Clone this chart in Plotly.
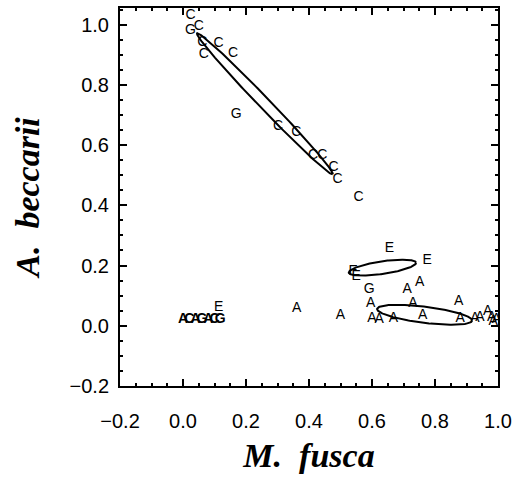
import numpy as np
import plotly.graph_objects as go

# ---- data ----
c_x = [0.024, 0.050, 0.061, 0.066, 0.113, 0.159, 0.302, 0.360, 0.413, 0.442, 0.478, 0.491, 0.557]
c_y = [1.030, 0.993, 0.940, 0.900, 0.938, 0.905, 0.660, 0.641, 0.564, 0.564, 0.525, 0.487, 0.426]

g_x = [0.024, 0.169, 0.591]
g_y = [0.979, 0.701, 0.120]

e_x = [0.655, 0.775, 0.540, 0.550, 0.113]
e_y = [0.255, 0.217, 0.180, 0.165, 0.061]

a_x = [0.361, 0.500, 0.596, 0.600, 0.623, 0.668, 0.712, 0.751, 0.730, 0.761,
       0.875, 0.880, 0.927, 0.943, 0.967, 0.980, 0.985, 0.995]
a_y = [0.058, 0.035, 0.073, 0.024, 0.020, 0.024, 0.120, 0.145, 0.073, 0.035,
       0.079, 0.024, 0.024, 0.027, 0.046, 0.027, 0.013, 0.020]

# dense cluster near the origin
k_x = [0.000, 0.020, 0.040, 0.060, 0.080, 0.100, 0.118]
k_y = [0.020, 0.020, 0.020, 0.020, 0.020, 0.020, 0.020]
k_t = ["A", "C", "A", "G", "A", "C", "G"]

# ellipses: centre x, centre y, semi-major, semi-minor, angle (deg)
ell_cx = [0.260, 0.633, 0.767]
ell_cy = [0.737, 0.193, 0.0365]
ell_a = [0.318, 0.108, 0.152]
ell_b = [0.018, 0.021, 0.027]
ell_ang = [-47.4, 8.8, -7.4]

x_ticks = [-0.2, 0.0, 0.2, 0.4, 0.6, 0.8, 1.0]
y_ticks = [-0.2, 0.0, 0.2, 0.4, 0.6, 0.8, 1.0]

fig = go.Figure()

letter_font = dict(family="Liberation Sans", size=14, color="black")

for xs, ys, lab in [(c_x, c_y, "C"), (g_x, g_y, "G"), (e_x, e_y, "E"), (a_x, a_y, "A")]:
    fig.add_trace(go.Scatter(x=xs, y=ys, mode="text", text=[lab] * len(xs),
                             textfont=letter_font, textposition="middle center",
                             showlegend=False, hoverinfo="skip"))

fig.add_trace(go.Scatter(x=k_x, y=k_y, mode="text", text=["<b>%s</b>" % t for t in k_t],
                         textfont=dict(family="Liberation Sans", size=14, color="black"),
                         textposition="middle center", showlegend=False, hoverinfo="skip"))

t = np.linspace(0, 2 * np.pi, 200)
for cx, cy, a, b, ang in zip(ell_cx, ell_cy, ell_a, ell_b, ell_ang):
    th = np.deg2rad(ang)
    ex = cx + a * np.cos(th) * np.cos(t) - b * np.sin(th) * np.sin(t)
    ey = cy + a * np.sin(th) * np.cos(t) + b * np.cos(th) * np.sin(t)
    fig.add_trace(go.Scatter(x=ex, y=ey, mode="lines", line=dict(color="black", width=2),
                             showlegend=False, hoverinfo="skip"))

axis_common = dict(
    showgrid=False, zeroline=False, showline=True, linecolor="black", linewidth=2,
    mirror="allticks", ticks="inside", ticklen=7, tickwidth=1.5, tickcolor="black",
    tickfont=dict(family="Liberation Sans", size=20, color="black"),
    minor=dict(ticks="inside", ticklen=3, tickwidth=1.5, tickcolor="black", dtick=0.05),
)

fig.update_xaxes(range=[-0.2, 1.0], tickvals=x_ticks, ticktext=["\u22120.2" if v < 0 else "%.1f" % v for v in x_ticks],
                 ticklabelstandoff=16,
                 title=dict(text="<b><i>M.  fusca</i></b>", font=dict(family="Liberation Serif", size=34, color="black"),
                            standoff=12),
                 **axis_common)
fig.update_yaxes(range=[-0.2, 1.055], tickvals=y_ticks, ticktext=["\u22120.2" if v < 0 else "%.1f" % v for v in y_ticks],
                 ticklabelstandoff=5,
                 title=dict(text="<b><i>A.  beccarii</i></b>", font=dict(family="Liberation Serif", size=34, color="black"),
                            standoff=20),
                 **axis_common)

fig.update_layout(width=518, height=478, margin=dict(l=120, r=18, t=6, b=92),
                  plot_bgcolor="white", paper_bgcolor="white")

fig.write_html("out.html")
